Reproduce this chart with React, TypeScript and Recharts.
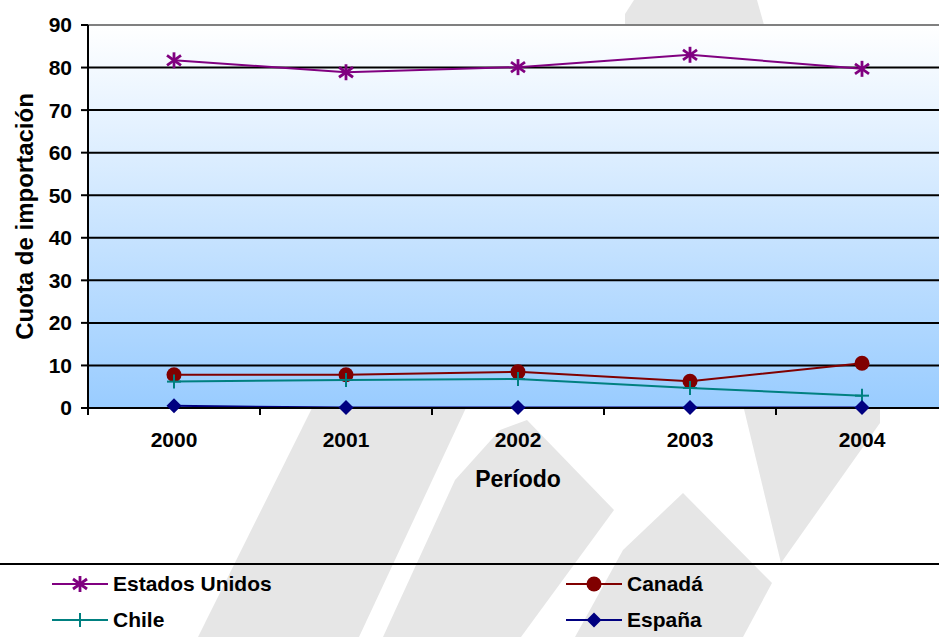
import React from 'react';
import { LineChart, Line, XAxis, YAxis, CartesianGrid, ReferenceLine } from 'recharts';

const YEARS = ['2000', '2001', '2002', '2003', '2004'];
const ESTADOS_UNIDOS = [81.7, 78.9, 80.1, 83.0, 79.7];
const CANADA = [7.8, 7.8, 8.5, 6.3, 10.5];
const CHILE = [6.2, 6.6, 6.8, 4.7, 2.9];
const ESPANA = [0.5, 0.1, 0.1, 0.1, 0.1];
const Y_TICKS = [0, 10, 20, 30, 40, 50, 60, 70, 80, 90];

const SERIES = [
  { key: 'eeuu', name: 'Estados Unidos', color: '#800080', marker: 'star' },
  { key: 'canada', name: 'Canadá', color: '#800000', marker: 'circle' },
  { key: 'chile', name: 'Chile', color: '#008080', marker: 'plus' },
  { key: 'espana', name: 'España', color: '#000080', marker: 'diamond' },
];

const data = YEARS.map((year, i) => ({
  year,
  eeuu: ESTADOS_UNIDOS[i],
  canada: CANADA[i],
  chile: CHILE[i],
  espana: ESPANA[i],
}));

const FONT = '"Liberation Sans", Arial, Helvetica, sans-serif';

function Marker({ type, cx, cy, color }: { type: string; cx: number; cy: number; color: string }) {
  if (cx == null || cy == null) return null;
  if (type === 'star') {
    return (
      <g stroke={color} strokeWidth={2.8}>
        <line x1={cx} y1={cy - 8} x2={cx} y2={cy + 8} />
        <line x1={cx - 7} y1={cy - 5} x2={cx + 7} y2={cy + 5} />
        <line x1={cx - 7} y1={cy + 5} x2={cx + 7} y2={cy - 5} />
      </g>
    );
  }
  if (type === 'circle') {
    return <circle cx={cx} cy={cy} r={7.5} fill={color} />;
  }
  if (type === 'plus') {
    return (
      <g stroke={color} strokeWidth={2}>
        <line x1={cx} y1={cy - 7} x2={cx} y2={cy + 7} />
        <line x1={cx - 7} y1={cy} x2={cx + 7} y2={cy} />
      </g>
    );
  }
  return <polygon points={`${cx},${cy - 7.5} ${cx + 7.5},${cy} ${cx},${cy + 7.5} ${cx - 7.5},${cy}`} fill={color} />;
}

const XTick = (props: any) => {
  const { x, y, payload } = props;
  const off = payload.offset ?? 86;
  return (
    <g>
      <line x1={x - off} x2={x - off} y1={y} y2={y + 7} stroke="#000" strokeWidth={2} />
      <text x={x} y={y + 39} textAnchor="middle" fill="#000" fontSize={21} fontWeight="bold" fontFamily={FONT}>
        {payload.value}
      </text>
    </g>
  );
};

const YTitle = (props: any) => {
  const vb = props.viewBox || { x: 0, y: 25, width: 88, height: 383 };
  const x = vb.x + 33;
  const y = vb.y + vb.height / 2;
  return (
    <text x={x} y={y} transform={`rotate(-90 ${x} ${y})`} textAnchor="middle" fill="#000" fontSize={24} fontWeight="bold" fontFamily={FONT}>
      Cuota de importación
    </text>
  );
};

export default function App() {
  return (
    <div style={{ position: 'fixed', left: 0, top: 0, width: 939, height: 637, overflow: 'hidden', background: '#fff', fontFamily: FONT }}>
      {/* watermark */}
      <svg width={939} height={637} style={{ position: 'absolute', left: 0, top: 0 }}>
        <g fill="#e6e6e6">
          <polygon points="326,380 479,380 359,637 198,637" />
          <polygon points="527,420 614,510 521,637 383,637 455,480 500,430" />
          <polygon points="683,493 772,583 743,637 575,637 623,550" />
          <polygon points="737,380 880,380 880,423 781,563" />
          <polygon points="634,0 757,0 764,25 625,25 625,14" />
        </g>
      </svg>

      <div style={{ position: 'absolute', left: 0, top: 0 }}>
        <LineChart width={948} height={637} data={data} margin={{ top: 25, right: 0, left: 0, bottom: 139 }}>
          <defs>
            <linearGradient id="plotBg" x1="0" y1="0" x2="0" y2="1">
              <stop offset="0%" stopColor="#ffffff" />
              <stop offset="100%" stopColor="#99ccff" />
            </linearGradient>
          </defs>
          <CartesianGrid vertical={false} stroke="#000" strokeWidth={2} fill="url(#plotBg)" fillOpacity={1} />
          <ReferenceLine y={90} stroke="#808080" strokeWidth={2} />
          <XAxis
            dataKey="year"
            scale="band"
            height={90}
            tickSize={0}
            tickMargin={0}
            tickLine={false}
            axisLine={{ stroke: '#000', strokeWidth: 2 }}
            tick={<XTick />}
            interval={0}
            label={{ value: 'Período', position: 'insideTop', offset: 63, fill: '#000', fontSize: 23, fontWeight: 'bold', fontFamily: FONT }}
          />
          <YAxis
            width={88}
            domain={[0, 90]}
            ticks={Y_TICKS}
            interval={0}
            tickSize={7}
            tickMargin={9}
            axisLine={{ stroke: '#000', strokeWidth: 2 }}
            tickLine={{ stroke: '#000', strokeWidth: 2 }}
            tick={{ fill: '#000', fontSize: 21, fontWeight: 'bold', fontFamily: FONT }}
            label={{ content: <YTitle /> }}
          />
          {SERIES.map((s) => (
            <Line
              key={s.key}
              dataKey={s.key}
              name={s.name}
              type="linear"
              stroke={s.color}
              strokeWidth={2}
              isAnimationActive={false}
              activeDot={false}
              dot={(p: any) => <Marker key={`${s.key}-${p.index}`} type={s.marker} cx={p.cx} cy={p.cy} color={s.color} />}
            />
          ))}
        </LineChart>
      </div>

      {/* legend */}
      <div style={{ position: 'absolute', left: 0, top: 563, width: 939, height: 2, background: '#000' }} />
      {SERIES.map((s, i) => {
        const left = i % 2 === 0 ? 52 : 566;
        const top = i < 2 ? 574 : 610;
        return (
          <div key={s.key} style={{ position: 'absolute', left, top, height: 20, display: 'flex', alignItems: 'center' }}>
            <svg width={56} height={20}>
              <line x1={0} y1={10} x2={56} y2={10} stroke={s.color} strokeWidth={2} />
              <Marker type={s.marker} cx={28} cy={10} color={s.color} />
            </svg>
            <span style={{ marginLeft: 5, fontSize: 21, fontWeight: 'bold', color: '#000', whiteSpace: 'nowrap' }}>{s.name}</span>
          </div>
        );
      })}
    </div>
  );
}
